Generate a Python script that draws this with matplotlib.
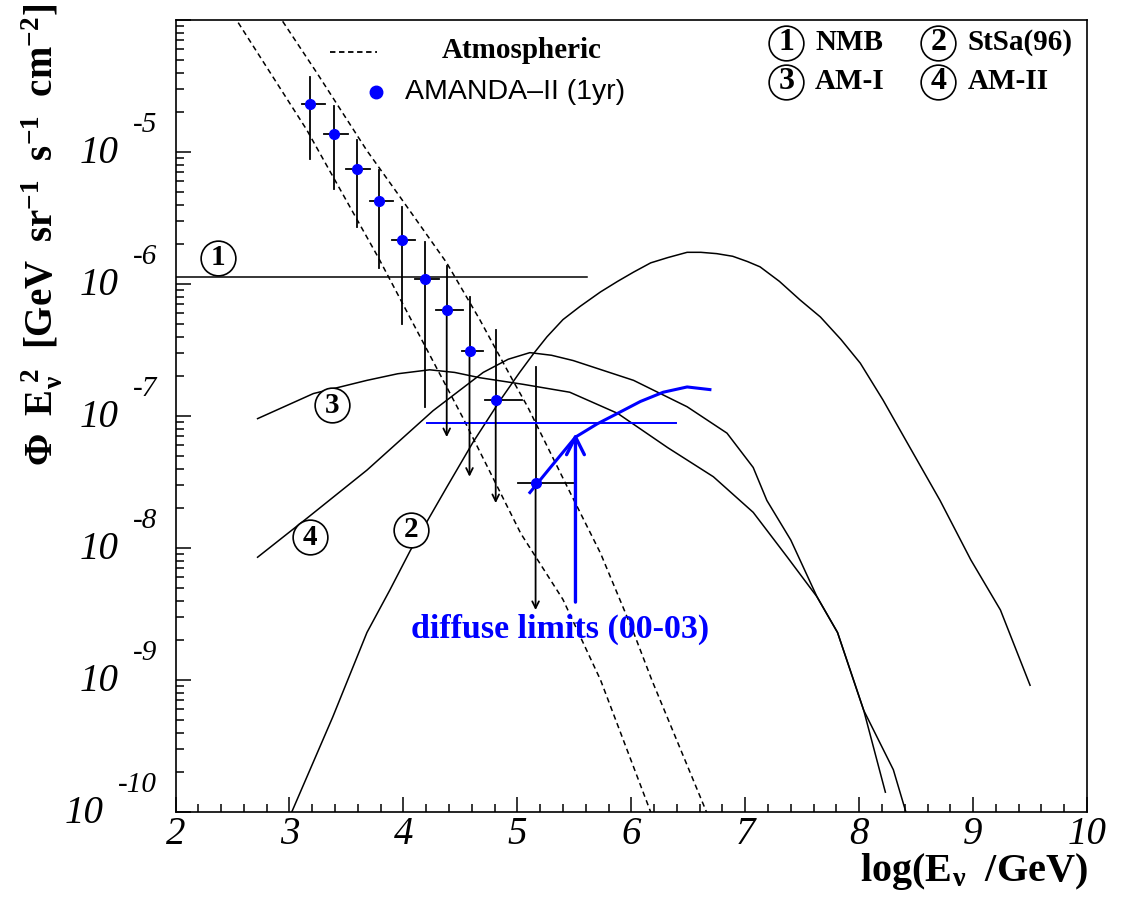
import numpy as np
import matplotlib
matplotlib.use("Agg")
import matplotlib.pyplot as plt
from matplotlib.ticker import MultipleLocator, LogLocator, NullFormatter

plt.rcParams['font.family'] = ['Liberation Serif', 'DejaVu Serif']
plt.rcParams['mathtext.fontset'] = 'custom'
plt.rcParams['mathtext.rm'] = 'Liberation Serif'
plt.rcParams['mathtext.it'] = 'Liberation Serif:italic'
plt.rcParams['mathtext.bf'] = 'Liberation Serif:bold'

# --- data: x = log10(E/GeV), y = log10(flux) ---
# atmospheric neutrinos (two dashed bands)
atm_lo_x = [2.55, 3.15, 3.78, 4.52, 5.03, 5.40, 5.73, 6.17]
atm_lo_y = [-4.02, -4.83, -5.80, -7.01, -7.89, -8.39, -9.00, -10.00]
atm_hi_x = [2.94, 3.24, 3.68, 3.97, 4.38, 4.67, 4.96, 5.09, 5.44, 5.73, 6.02, 6.18, 6.66]
atm_hi_y = [-4.01, -4.40, -4.99, -5.34, -5.84, -6.27, -6.73, -6.93, -7.54, -8.04, -8.64, -9.00, -10.00]

# model (2) StSa(96)
stsa_x = [3.02, 3.38, 3.68, 3.88, 4.06, 4.38, 4.61, 4.85, 5.02, 5.14, 5.26, 5.40, 5.55, 5.73,
          5.88, 6.02, 6.17, 6.32, 6.49, 6.61, 6.75, 6.89, 7.02, 7.13, 7.30, 7.48, 7.66, 7.84,
          8.01, 8.21, 8.42, 8.71, 8.98, 9.24, 9.50]
stsa_y = [-10.0, -9.28, -8.64, -8.32, -8.02, -7.54, -7.20, -6.88, -6.67, -6.53, -6.40, -6.27, -6.17, -6.06,
          -5.98, -5.91, -5.84, -5.80, -5.76, -5.76, -5.77, -5.79, -5.83, -5.87, -5.98, -6.12, -6.25, -6.42,
          -6.60, -6.88, -7.20, -7.64, -8.09, -8.47, -9.04]

# model (3) AM-I
am1_x = [2.72, 3.21, 3.68, 3.95, 4.23, 4.45, 4.67, 5.05, 5.46, 5.88, 6.32, 6.72, 7.07, 7.37,
         7.63, 7.81, 8.04, 8.30, 8.41]
am1_y = [-7.02, -6.83, -6.73, -6.68, -6.65, -6.67, -6.71, -6.76, -6.82, -6.98, -7.24, -7.46, -7.73, -8.07,
         -8.37, -8.64, -9.23, -9.68, -10.0]

# model (4) AM-II
am2_x = [2.72, 3.16, 3.68, 4.26, 4.70, 4.92, 5.11, 5.30, 5.49, 6.02, 6.49, 6.84, 7.07, 7.19,
         7.40, 7.63, 7.81, 8.04, 8.23]
am2_y = [-8.07, -7.77, -7.41, -6.96, -6.67, -6.57, -6.52, -6.54, -6.58, -6.73, -6.93, -7.13, -7.39, -7.64,
         -7.94, -8.37, -8.64, -9.23, -9.85]

# model (1) NMB
nmb_x = [2.0, 5.61]
nmb_y = [-5.945, -5.945]

# AMANDA-II (1yr) unfolded spectrum
am_x = [3.18, 3.39, 3.59, 3.79, 3.99, 4.19, 4.38, 4.58, 4.81, 5.16]
am_y = [-4.64, -4.86, -5.13, -5.37, -5.67, -5.96, -6.20, -6.51, -6.88, -7.51]
am_xlo = [3.11, 3.30, 3.50, 3.71, 3.90, 4.10, 4.29, 4.51, 4.72, 5.01]
am_xhi = [3.31, 3.51, 3.71, 3.91, 4.10, 4.31, 4.52, 4.70, 5.04, 5.51]
am_yhi = [-4.43, -4.65, -4.91, -5.14, -5.42, -5.68, -5.86, -6.10, -6.35, -6.63]
am_ylo = [-5.05, -5.28, -5.57, -5.88, -6.30, -6.93, -7.16, -7.46, -7.66, -8.47]
am_uplim = [False, False, False, False, False, False, True, True, True, True]

# diffuse limits (00-03)
lim_hline_x = [4.21, 6.39]
lim_hline_y = -7.055
lim_curve_x = [5.11, 5.29, 5.51, 5.70, 5.88, 6.08, 6.28, 6.49, 6.69]
lim_curve_y = [-7.58, -7.39, -7.16, -7.06, -6.98, -6.89, -6.82, -6.78, -6.80]
lim_arrow_x = 5.51
lim_arrow_y = [-8.41, -7.13]

ytick_exps = [-5, -6, -7, -8, -9, -10]

fig = plt.figure(figsize=(11.21, 9.01), dpi=100)
ax = fig.add_axes([0.1566, 0.0988, 0.8131, 0.8790])
ax.set_yscale('log')
ax.set_xlim(2, 10)
ax.set_ylim(1e-10, 1e-4)

f = lambda v: 10.0 ** np.asarray(v)
lw = 1.1

ax.plot(atm_lo_x, f(atm_lo_y), color='k', lw=lw, dashes=(3.5, 2.5))
ax.plot(atm_hi_x, f(atm_hi_y), color='k', lw=lw, dashes=(3.5, 2.5))
ax.plot(stsa_x, f(stsa_y), color='k', lw=lw)
ax.plot(am1_x, f(am1_y), color='k', lw=lw)
ax.plot(am2_x, f(am2_y), color='k', lw=lw)
ax.plot(nmb_x, f(nmb_y), color='k', lw=lw)

# AMANDA points
for x, y, xl, xh, yl, yh, ul in zip(am_x, am_y, am_xlo, am_xhi, am_ylo, am_yhi, am_uplim):
    ax.plot([xl, xh], f([y, y]), color='k', lw=1.3)
    ax.plot([x, x], f([yh, y]), color='k', lw=1.3)
    if ul:
        ax.annotate('', xy=(x, f(yl)), xytext=(x, f(y)),
                    arrowprops=dict(arrowstyle='->', color='k', lw=1.3,
                                    mutation_scale=12, shrinkA=0, shrinkB=0))
    else:
        ax.plot([x, x], f([y, yl]), color='k', lw=1.3)
ax.plot(am_x, f(am_y), 'o', color='blue', ms=7, zorder=5)

# diffuse limits
ax.plot(lim_hline_x, f([lim_hline_y, lim_hline_y]), color='blue', lw=1.4)
ax.plot(lim_curve_x, f(lim_curve_y), color='blue', lw=2.2)
ax.annotate('', xy=(lim_arrow_x, f(lim_arrow_y[1])), xytext=(lim_arrow_x, f(lim_arrow_y[0])),
            arrowprops=dict(arrowstyle='->', color='blue', lw=2.4,
                            mutation_scale=32, shrinkA=0, shrinkB=0))
ax.text(5.375, f(-8.62), 'diffuse limits (00-03)', color='blue', fontsize=24.5,
        fontweight='bold', ha='center', va='center')

# circled curve labels
def circ(x, y, s, trans, fs=21):
    ax.plot([x], [y], 'o', ms=25, mfc='white', mec='k', mew=1.2, transform=trans, zorder=6)
    ax.text(x, y, s, fontsize=fs, fontweight='bold', ha='center', va='center',
            transform=trans, zorder=7)

circ(2.373, f(-5.80), '1', ax.transData)
circ(4.07, f(-7.86), '2', ax.transData)
circ(3.37, f(-6.92), '3', ax.transData)
circ(3.18, f(-7.92), '4', ax.transData)

# legend, top right
for cx, cy, n, name in [(0.670, 0.971, '1', 'NMB'), (0.837, 0.971, '2', 'StSa(96)'),
                        (0.670, 0.922, '3', 'AM-I'), (0.837, 0.922, '4', 'AM-II')]:
    circ(cx, cy, n, ax.transAxes, fs=23)
    ax.text(cx + 0.0316, cy, name, fontsize=21, fontweight='bold', ha='left', va='center',
            transform=ax.transAxes)

# legend, top left
ax.plot([0.1695, 0.221], [0.9596, 0.9596], color='k', lw=1.3, dashes=(3, 2), transform=ax.transAxes)
ax.text(0.2922, 0.962, 'Atmospheric', fontsize=21, fontweight='bold', ha='left', va='center',
        transform=ax.transAxes)
ax.plot([0.22], [0.909], 'o', color='blue', ms=9, transform=ax.transAxes)
ax.text(0.2518, 0.909, 'AMANDA\u2013II (1yr)', fontsize=20.5, family='Liberation Sans',
        ha='left', va='center', transform=ax.transAxes)

# axes styling
for sp in ax.spines.values():
    sp.set_linewidth(1.2)
ax.xaxis.set_major_locator(MultipleLocator(1))
ax.xaxis.set_minor_locator(MultipleLocator(0.2))
ax.yaxis.set_major_locator(LogLocator(base=10, numticks=20))
ax.yaxis.set_minor_locator(LogLocator(base=10, subs=np.arange(2, 10), numticks=20))
ax.yaxis.set_major_formatter(NullFormatter())
ax.yaxis.set_minor_formatter(NullFormatter())
ax.tick_params(which='both', direction='in', top=False, right=False, width=1.1)
ax.tick_params(which='major', length=11)
ax.tick_params(which='minor', length=5.5)
ax.tick_params(axis='x', which='major', pad=3, labelsize=28)
for lab in ax.get_xticklabels():
    lab.set_fontstyle('italic')

# ROOT-style y tick labels
ytr = ax.get_yaxis_transform()
for k in ytick_exps:
    t = ax.text(-0.0203, 10.0 ** (k + 0.205), str(k), fontsize=21, style='italic',
                ha='right', va='center', transform=ytr)
    ax.annotate('10', xy=(0, 0.5), xycoords=t, xytext=(-14, -29), textcoords='offset pixels',
                fontsize=28, style='italic', ha='right', va='center', annotation_clip=False)

fig.text(1088 / 1121, 1 - 872 / 901, r'$\mathbf{log(E_{\nu}\ \ /GeV)}$', fontsize=29,
         ha='right', va='center')
fig.text(42 / 1121, 1 - 4 / 901,
         r'$\mathbf{\Phi\ \ E_{\nu}^{\ 2}\ \ [GeV\ \ sr^{-1}\ \ s^{-1}\ \ cm^{-2}]}$',
         fontsize=28, rotation=90, ha='center', va='top')

fig.savefig('out.png', dpi=100)
